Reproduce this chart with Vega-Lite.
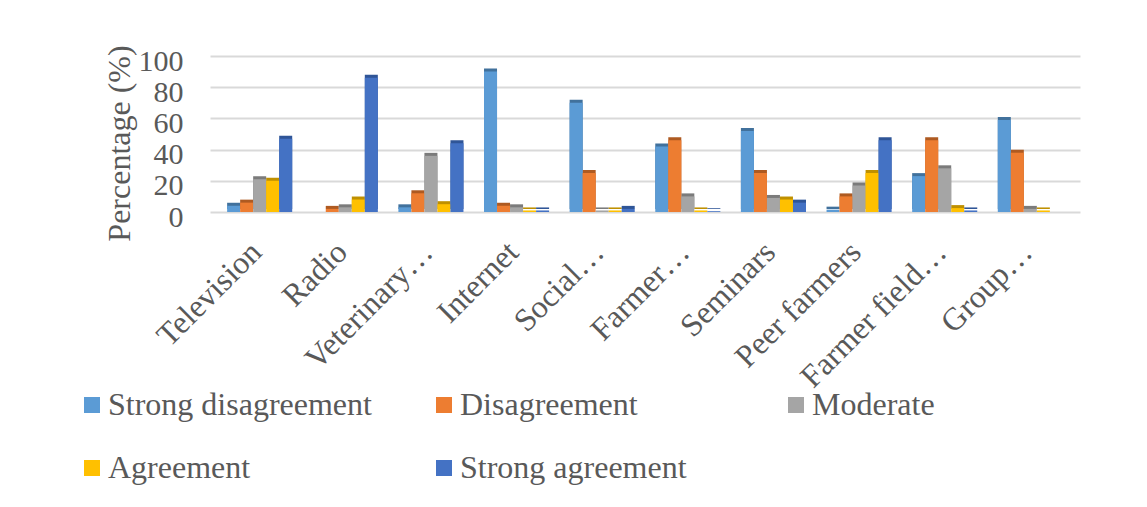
{
  "$schema": "https://vega.github.io/schema/vega-lite/v6.json",
  "autosize": "none",
  "width": 870,
  "height": 156,
  "padding": {"left": 210, "top": 56, "right": 67, "bottom": 295},
  "background": "white",
  "config": {
    "view": {"stroke": null},
    "axisX": {"labelFont": "Times New Roman", "labelColor": "#595959"},
    "axisY": {"labelFont": "Times New Roman", "titleFont": "Times New Roman", "labelColor": "#595959", "titleColor": "#595959"},
    "legend": {"labelFont": "Times New Roman", "labelColor": "#595959"}
  },
  "data": {
    "values": [
      {"source": "Television", "level": "Strong disagreement", "pct": 4},
      {"source": "Television", "level": "Disagreement", "pct": 6},
      {"source": "Television", "level": "Moderate", "pct": 21},
      {"source": "Television", "level": "Agreement", "pct": 20},
      {"source": "Television", "level": "Strong agreement", "pct": 47},
      {"source": "Radio", "level": "Strong disagreement", "pct": 0},
      {"source": "Radio", "level": "Disagreement", "pct": 2},
      {"source": "Radio", "level": "Moderate", "pct": 3},
      {"source": "Radio", "level": "Agreement", "pct": 8},
      {"source": "Radio", "level": "Strong agreement", "pct": 86},
      {"source": "Veterinary…", "level": "Strong disagreement", "pct": 3},
      {"source": "Veterinary…", "level": "Disagreement", "pct": 12},
      {"source": "Veterinary…", "level": "Moderate", "pct": 36},
      {"source": "Veterinary…", "level": "Agreement", "pct": 5},
      {"source": "Veterinary…", "level": "Strong agreement", "pct": 44},
      {"source": "Internet", "level": "Strong disagreement", "pct": 90},
      {"source": "Internet", "level": "Disagreement", "pct": 4},
      {"source": "Internet", "level": "Moderate", "pct": 3},
      {"source": "Internet", "level": "Agreement", "pct": 1},
      {"source": "Internet", "level": "Strong agreement", "pct": 1},
      {"source": "Social…", "level": "Strong disagreement", "pct": 70},
      {"source": "Social…", "level": "Disagreement", "pct": 25},
      {"source": "Social…", "level": "Moderate", "pct": 1},
      {"source": "Social…", "level": "Agreement", "pct": 1},
      {"source": "Social…", "level": "Strong agreement", "pct": 2},
      {"source": "Farmer…", "level": "Strong disagreement", "pct": 42},
      {"source": "Farmer…", "level": "Disagreement", "pct": 46},
      {"source": "Farmer…", "level": "Moderate", "pct": 10},
      {"source": "Farmer…", "level": "Agreement", "pct": 1},
      {"source": "Farmer…", "level": "Strong agreement", "pct": 0.5},
      {"source": "Seminars", "level": "Strong disagreement", "pct": 52},
      {"source": "Seminars", "level": "Disagreement", "pct": 25},
      {"source": "Seminars", "level": "Moderate", "pct": 9},
      {"source": "Seminars", "level": "Agreement", "pct": 8},
      {"source": "Seminars", "level": "Strong agreement", "pct": 6},
      {"source": "Peer  farmers", "level": "Strong disagreement", "pct": 1.5},
      {"source": "Peer  farmers", "level": "Disagreement", "pct": 10},
      {"source": "Peer  farmers", "level": "Moderate", "pct": 17},
      {"source": "Peer  farmers", "level": "Agreement", "pct": 25},
      {"source": "Peer  farmers", "level": "Strong agreement", "pct": 46},
      {"source": "Farmer field…", "level": "Strong disagreement", "pct": 23},
      {"source": "Farmer field…", "level": "Disagreement", "pct": 46},
      {"source": "Farmer field…", "level": "Moderate", "pct": 28},
      {"source": "Farmer field…", "level": "Agreement", "pct": 2.5},
      {"source": "Farmer field…", "level": "Strong agreement", "pct": 1},
      {"source": "Group…", "level": "Strong disagreement", "pct": 59},
      {"source": "Group…", "level": "Disagreement", "pct": 38},
      {"source": "Group…", "level": "Moderate", "pct": 2},
      {"source": "Group…", "level": "Agreement", "pct": 1},
      {"source": "Group…", "level": "Strong agreement", "pct": 0}
    ]
  },
  "encoding": {
    "x": {
      "field": "source",
      "type": "nominal",
      "sort": null,
      "scale": {"paddingInner": 0.24, "paddingOuter": 0.2},
      "axis": {
        "title": null,
        "labelAngle": -45,
        "labelFontSize": 32,
        "labelPadding": 24,
        "labelOffset": -14,
        "labelLimit": 300,
        "ticks": false,
        "domain": false,
        "grid": false
      }
    },
    "xOffset": {
      "field": "level",
      "type": "nominal",
      "sort": ["Strong disagreement", "Disagreement", "Moderate", "Agreement", "Strong agreement"],
      "scale": {"paddingInner": 0, "paddingOuter": 0}
    },
    "y": {
      "field": "pct",
      "type": "quantitative",
      "scale": {"domain": [0, 100], "nice": false},
      "axis": {
        "title": "Percentage (%)",
        "titleFontSize": 32,
        "titleFontWeight": "normal",
        "titlePadding": 2,
        "titleY": 87,
        "labelFontSize": 30,
        "labelPadding": 27,
        "labelOffset": 5,
        "values": [0, 20, 40, 60, 80, 100],
        "ticks": false,
        "domain": false,
        "grid": true,
        "gridColor": "#d9d9d9",
        "gridWidth": 2
      }
    }
  },
  "layer": [
    {
      "mark": {"type": "bar", "xOffset": 3, "yOffset": -3},
      "encoding": {
        "color": {
          "field": "level",
          "type": "nominal",
          "legend": null,
          "scale": {
            "domain": ["Strong disagreement", "Disagreement", "Moderate", "Agreement", "Strong agreement"],
            "range": ["#41719c", "#ae5a21", "#7b7b7b", "#bf9000", "#2f5597"]
          }
        }
      }
    },
    {
      "mark": {"type": "bar"},
      "encoding": {
        "color": {
          "field": "level",
          "type": "nominal",
          "scale": {
            "domain": ["Strong disagreement", "Disagreement", "Moderate", "Agreement", "Strong agreement"],
            "range": ["#5b9bd5", "#ed7d31", "#a5a5a5", "#ffc000", "#4472c4"]
          },
          "legend": {
            "title": null,
            "orient": "none",
            "legendX": -134,
            "legendY": 333,
            "direction": "horizontal",
            "columns": 3,
            "gridAlign": "all",
            "columnPadding": 56,
            "rowPadding": 31,
            "symbolType": "square",
            "symbolSize": 256,
            "symbolStrokeWidth": 0,
            "symbolOffset": 0,
            "labelFontSize": 32,
            "labelOffset": 0,
            "labelLimit": 400
          }
        }
      }
    }
  ],
  "resolve": {"scale": {"color": "independent"}}
}
